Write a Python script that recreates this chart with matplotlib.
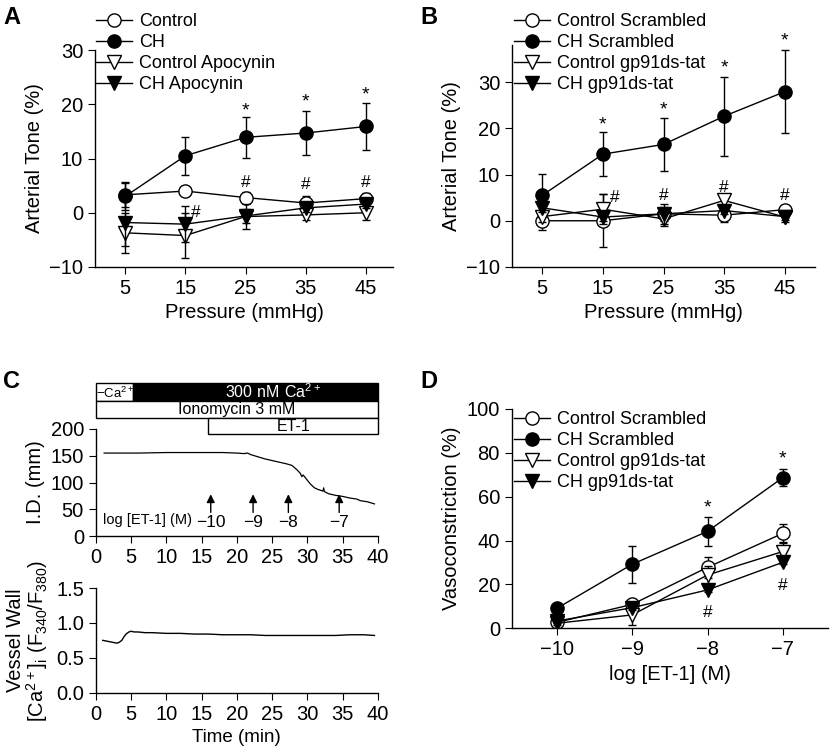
import matplotlib.pyplot as plt
from matplotlib.lines import Line2D
from matplotlib.patches import Rectangle

plt.rcParams['font.family'] = ['Liberation Sans', 'DejaVu Sans']
plt.rcParams['font.size'] = 14
plt.rcParams['axes.linewidth'] = 1.0
plt.rcParams['xtick.major.size'] = 5
plt.rcParams['ytick.major.size'] = 5
plt.rcParams['xtick.labelsize'] = 14.5
plt.rcParams['ytick.labelsize'] = 14.5

# ---- panel A ----
pressure = [5, 15, 25, 35, 45]
a_ctrl = [3.3, 4.0, 2.8, 1.8, 2.6]
a_ctrl_err = [2.3, 0.7, 1.0, 1.3, 1.0]
a_ch = [3.0, 10.5, 13.9, 14.7, 15.9]
a_ch_err = [2.5, 3.5, 3.8, 4.0, 4.3]
a_ctrl_apo = [-3.7, -4.2, -0.7, -0.4, 0.0]
a_ctrl_apo_err = [3.7, 4.1, 2.3, 1.0, 1.3]
a_ch_apo = [-1.8, -2.1, -0.6, 0.9, 1.6]
a_ch_apo_err = [4.3, 3.3, 1.3, 0.8, 0.8]
a_star_x = [25, 35, 45]
a_star_y = [18.8, 20.5, 21.8]
a_hash_x = [25, 35, 45, 16.7]
a_hash_y = [5.5, 5.2, 5.5, 0.1]

# ---- panel B ----
b_ctrl = [0.0, 0.0, 1.5, 1.2, 2.4]
b_ctrl_err = [2.1, 5.7, 1.5, 1.5, 0.8]
b_ch = [5.5, 14.4, 16.5, 22.6, 27.9]
b_ch_err = [4.6, 4.7, 5.7, 8.5, 9.0]
b_ctrl_gp = [0.9, 2.5, 0.4, 4.4, 0.8]
b_ctrl_gp_err = [1.2, 3.3, 1.5, 1.0, 1.0]
b_ch_gp = [2.8, 0.8, 1.5, 2.2, 0.9]
b_ch_gp_err = [0.8, 0.8, 2.2, 0.8, 0.8]
b_star_x = [15, 25, 35, 45]
b_star_y = [20.8, 24.0, 33.0, 38.8]
b_hash_x = [16.9, 25, 35, 45]
b_hash_y = [5.1, 5.5, 7.1, 5.5]

# ---- panel C ----
id_time = [1.2, 3, 6, 10, 14, 18, 20, 21, 21.5, 22, 23, 24, 25, 26, 27, 27.8, 28.5,
           29.0, 29.2, 29.4, 30.0, 30.5, 31.0, 31.5, 32.2, 32.3, 32.4, 33, 34, 35, 36,
           37, 37.5, 38.5, 39.5]
id_diam = [155, 155, 155, 156, 156, 156, 155, 154, 155, 152, 148, 144, 141, 138, 135,
           132, 124, 117, 111, 114, 104, 96, 90, 87, 84, 90, 83, 79, 76, 74, 71, 69,
           66, 64, 60]
arrow_x = [16.3, 22.3, 27.3, 34.5]
arrow_lbl = ['\u221210', '\u22129', '\u22128', '\u22127']

ca_time = [1.0, 1.5, 2.0, 2.5, 3.0, 3.3, 3.7, 4.0, 4.3, 4.7, 5.0, 5.5, 6, 7, 8, 10,
           12, 14, 16, 18, 20, 22, 24, 26, 28, 30, 32, 34, 36, 38, 39.5]
ca_ratio = [0.75, 0.74, 0.73, 0.72, 0.71, 0.72, 0.75, 0.80, 0.84, 0.87, 0.88, 0.87,
            0.87, 0.86, 0.86, 0.85, 0.85, 0.84, 0.84, 0.83, 0.83, 0.83, 0.82, 0.82,
            0.82, 0.82, 0.82, 0.82, 0.83, 0.83, 0.82]

# ---- panel D ----
log_et = [-10, -9, -8, -7]
d_ctrl = [2.7, 10.9, 27.8, 43.3]
d_ctrl_err = [1.0, 2.0, 4.9, 4.3]
d_ch = [9.1, 29.2, 44.2, 68.7]
d_ch_err = [1.0, 8.5, 6.7, 4.0]
d_ctrl_gp = [2.3, 6.1, 24.3, 35.0]
d_ctrl_gp_err = [1.0, 4.7, 4.0, 4.5]
d_ch_gp = [3.3, 9.4, 17.5, 30.1]
d_ch_gp_err = [1.0, 1.0, 1.0, 1.0]
d_star_x = [-8, -7]
d_star_y = [55.0, 77.0]
d_hash_x = [-8, -7]
d_hash_y = [7.1, 19.3]

styles = [
    dict(marker='o', mfc='white'),
    dict(marker='o', mfc='black'),
    dict(marker='v', mfc='white'),
    dict(marker='v', mfc='black'),
]
W, H = 830, 752
LAB = 14.5


def px_axes(l, t, r, b):
    return [l / W, 1 - b / H, (r - l) / W, (b - t) / H]


def plot_series(ax, x, series, errs, order):
    for i in order:
        ax.errorbar(x, series[i], yerr=errs[i], color='black', lw=1.0,
                    elinewidth=1.0, capsize=3, capthick=1.0, ms=9.5,
                    mec='black', mew=1.0, zorder=3 + i, **styles[i])
    handles = [Line2D([], [], color='black', lw=1.0, ms=9.5, mec='black',
                      mew=1.0, **s) for s in styles]
    return handles


def clean(ax):
    ax.spines['top'].set_visible(False)
    ax.spines['right'].set_visible(False)


def add_legend(ax, handles, labels, x, y):
    ax.legend(handles, labels, loc='upper left', bbox_to_anchor=(x / W, 1 - y / H),
              bbox_transform=fig.transFigure, frameon=False, fontsize=13,
              handlelength=2.0, handletextpad=0.4, labelspacing=0.22,
              borderaxespad=0, borderpad=0)


fig = plt.figure(figsize=(8.3, 7.52), dpi=100)

# Panel A
axA = fig.add_axes(px_axes(95, 50, 393, 267))
labA = ['Control', 'CH', 'Control Apocynin', 'CH Apocynin']
hA = plot_series(axA, pressure, [a_ctrl, a_ch, a_ctrl_apo, a_ch_apo],
                 [a_ctrl_err, a_ch_err, a_ctrl_apo_err, a_ch_apo_err], [3, 2, 1, 0])
for x, y in zip(a_star_x, a_star_y):
    axA.text(x, y, '*', ha='center', va='center', fontsize=14)
for x, y in zip(a_hash_x, a_hash_y):
    axA.text(x, y, '#', ha='center', va='center', fontsize=12.5)
axA.set_xlim(0, 49.5)
axA.set_ylim(-10, 30)
axA.set_xticks(pressure)
axA.set_yticks([-10, 0, 10, 20, 30])
axA.set_xlabel('Pressure (mmHg)', fontsize=LAB)
axA.set_ylabel('Arterial Tone (%)', fontsize=LAB)
clean(axA)
add_legend(axA, hA, labA, 96, 13)

# Panel B
axB = fig.add_axes(px_axes(512, 45, 815, 267))
labB = ['Control Scrambled', 'CH Scrambled', 'Control gp91ds-tat', 'CH gp91ds-tat']
hB = plot_series(axB, pressure, [b_ctrl, b_ch, b_ctrl_gp, b_ch_gp],
                 [b_ctrl_err, b_ch_err, b_ctrl_gp_err, b_ch_gp_err], [0, 3, 2, 1])
for x, y in zip(b_star_x, b_star_y):
    axB.text(x, y, '*', ha='center', va='center', fontsize=14, clip_on=False)
for x, y in zip(b_hash_x, b_hash_y):
    axB.text(x, y, '#', ha='center', va='center', fontsize=12.5)
axB.set_xlim(0, 50)
axB.set_ylim(-10, 38)
axB.set_xticks(pressure)
axB.set_yticks([-10, 0, 10, 20, 30])
axB.set_xlabel('Pressure (mmHg)', fontsize=LAB)
axB.set_ylabel('Arterial Tone (%)', fontsize=LAB)
clean(axB)
add_legend(axB, hB, labB, 514, 13)

# Panel C top
axC1 = fig.add_axes(px_axes(95.7, 429, 378, 536))
axC1.plot(id_time, id_diam, color='black', lw=0.9)
for x, lbl in zip(arrow_x, arrow_lbl):
    axC1.annotate('', xy=(x, 78), xytext=(x, 44),
                  arrowprops=dict(arrowstyle='-|>', color='black', lw=1.0,
                                  mutation_scale=12, shrinkA=0, shrinkB=0))
    axC1.text(x, 25, lbl, ha='center', va='center', fontsize=12.5)
axC1.text(1.1, 29, 'log [ET-1] (M)', ha='left', va='center', fontsize=10.5)
axC1.set_xlim(0, 40)
axC1.set_ylim(0, 200)
axC1.set_xticks(range(0, 41, 5))
axC1.set_yticks([0, 50, 100, 150, 200])
axC1.set_ylabel('I.D. (mm)', fontsize=LAB)
clean(axC1)

# condition boxes above the trace
boxes = [
    (0, 5.3, 252, 286, 'white'),
    (5.3, 40, 252, 286, 'black'),
    (0, 40, 220.5, 252, 'white'),
    (15.9, 40, 190.7, 220.5, 'white'),
]
for x0, x1, y0, y1, fc in boxes:
    axC1.add_patch(Rectangle((x0, y0), x1 - x0, y1 - y0, facecolor=fc,
                             edgecolor='black', lw=1.0, clip_on=False, zorder=4))
axC1.text(0.1, 266, r'$\mathregular{-Ca^{2+}}$', ha='left', va='center',
          fontsize=9.5, zorder=5)
axC1.text(25.1, 269, r'$\mathregular{300\ nM\ Ca^{2+}}$', ha='center',
          va='center', fontsize=11.5, color='white', zorder=5)
axC1.text(20, 236, 'Ionomycin 3 mM', ha='center', va='center', fontsize=11.5,
          zorder=5)
axC1.text(28, 205, 'ET-1', ha='center', va='center', fontsize=11.5, zorder=5)

# Panel C bottom
axC2 = fig.add_axes(px_axes(95.7, 588, 378, 692.7))
axC2.plot(ca_time, ca_ratio, color='black', lw=1.0)
axC2.set_xlim(0, 40)
axC2.set_ylim(0, 1.5)
axC2.set_xticks(range(0, 41, 5))
axC2.set_yticks([0.0, 0.5, 1.0, 1.5])
axC2.set_yticklabels(['0.0', '0.5', '1.0', '1.5'])
axC2.set_xlabel('Time (min)', fontsize=13.5)
axC2.set_ylabel('Vessel Wall\n' + r'$\mathregular{[Ca^{2+}]_i\ (F_{340}/F_{380})}$',
                fontsize=LAB, linespacing=1.0)
clean(axC2)

# Panel D
axD = fig.add_axes(px_axes(511.7, 409, 828, 628.3))
hD = plot_series(axD, log_et, [d_ctrl, d_ch, d_ctrl_gp, d_ch_gp],
                 [d_ctrl_err, d_ch_err, d_ctrl_gp_err, d_ch_gp_err], [3, 2, 0, 1])
for x, y in zip(d_star_x, d_star_y):
    axD.text(x, y, '*', ha='center', va='center', fontsize=14)
for x, y in zip(d_hash_x, d_hash_y):
    axD.text(x, y, '#', ha='center', va='center', fontsize=12.5)
axD.set_xlim(-10.6, -6.4)
axD.set_ylim(0, 100)
axD.set_xticks(log_et)
axD.set_xticklabels(['\u221210', '\u22129', '\u22128', '\u22127'])
axD.set_yticks(range(0, 101, 20))
axD.set_xlabel('log [ET-1] (M)', fontsize=LAB)
axD.set_ylabel('Vasoconstriction (%)', fontsize=LAB)
clean(axD)
add_legend(axD, hD, labB, 514, 411)

for lbl, (x, y) in zip('ABCD', [(3, 6), (420, 6), (3, 370), (420, 370)]):
    fig.text(x / W, 1 - y / H, lbl, fontsize=17, fontweight='bold',
             ha='left', va='top')

fig.savefig('out.png', dpi=100)
